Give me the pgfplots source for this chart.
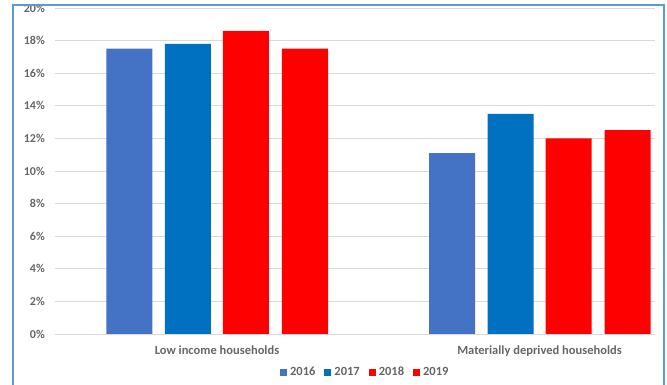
\documentclass[border=0pt]{standalone}
\usepackage{fontspec}
\setmainfont{Carlito}
\usepackage{pgfplots}
\pgfplotsset{compat=1.18}
\definecolor{c16}{HTML}{4472C4}
\definecolor{c17}{HTML}{0070C0}
\definecolor{c18}{HTML}{FF0000}
\definecolor{c19}{HTML}{FF0000}
\definecolor{txt}{HTML}{666666}
\definecolor{grd}{HTML}{D9D9D9}
\definecolor{frame}{HTML}{5B9BD5}
\begin{document}
\begin{tikzpicture}
\useasboundingbox (0pt,0pt) rectangle (667pt,385pt);
\begin{axis}[
  at={(55pt,51pt)}, anchor=south west,
  scale only axis, width=600pt, height=326pt,
  xmin=-0.5023, xmax=1.3581, ymin=0, ymax=20,
  ybar, bar width=46pt,
  axis line style={draw=none},
  ytick={0,2,...,20},
  yticklabel={\pgfmathprintnumber{\tick}\%},
  /pgf/number format/assume math mode=true,
  ymajorgrids, grid style={grd, line width=0.8pt},
  major tick length=0pt,
  xtick={0,1},
  xticklabels={Low income households, Materially deprived households},
  tick label style={text=txt},
  yticklabel style={inner sep=0pt, xshift=-10pt, font=\bfseries\fontsize{12}{14}\selectfont},
  xticklabel style={inner sep=0pt, yshift=-12pt, font=\bfseries\fontsize{12.5}{15}\selectfont},
  legend columns=4,
  legend style={at={(0.518,-0.1166)}, anchor=center, draw=none, fill=none,
    font=\bfseries\fontsize{12.5}{15}\selectfont, text=txt,
    nodes={inner sep=3pt},
    /tikz/every even column/.append style={column sep=6pt}},
  legend image code/.code={\fill[#1] (0pt,-3.5pt) rectangle (7pt,3.5pt);},
]
\addplot[fill=c16, draw=none, bar shift=-87.5pt] coordinates {(0,17.5) (1,11.1)};
\addplot[fill=c17, draw=none, bar shift=-29pt] coordinates {(0,17.8) (1,13.5)};
\addplot[fill=c18, draw=none, bar shift=29pt] coordinates {(0,18.6) (1,12.0)};
\addplot[fill=c19, draw=none, bar shift=88pt] coordinates {(0,17.5) (1,12.5)};
\legend{2016,2017,2018,2019}
\end{axis}
\draw[frame, line width=1.5pt] (13pt,0pt) -- (13pt,380pt) -- (664pt,380pt) -- (664pt,0pt);
\end{tikzpicture}
\end{document}
